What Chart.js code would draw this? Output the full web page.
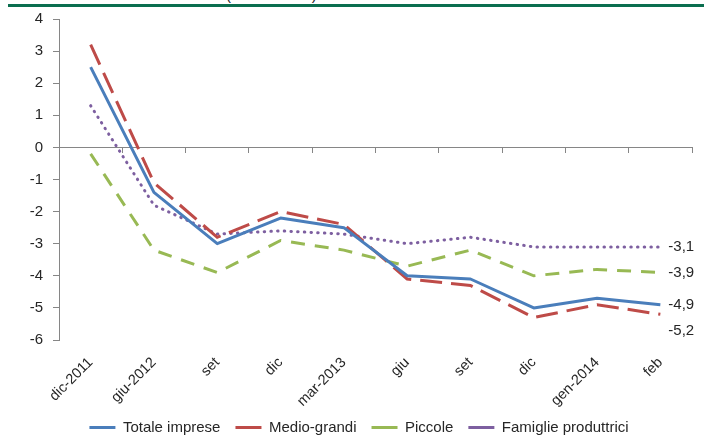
<!DOCTYPE html>
<html>
<head>
<meta charset="utf-8">
<script src="https://cdn.jsdelivr.net/npm/chart.js@4/dist/chart.umd.min.js"></script>
<style>
  html, body { margin: 0; padding: 0; background: #fff; }
  #wrap { position: relative; width: 704px; height: 440px; overflow: hidden; }
  #subtitle { position: absolute; left: 226px; top: -14px; font: 15px "Liberation Sans", Arial, sans-serif; color: #222; white-space: nowrap; }
  #rule { position: absolute; left: 8px; top: 4px; width: 696px; height: 3px; background: #0b6e4f; }
  canvas { position: absolute; left: 0; top: 0; }
</style>
</head>
<body>
<div id="wrap">
  <div id="subtitle">(variazioni %)</div>
  <div id="rule"></div>
  <canvas id="chart" width="704" height="440"></canvas>
</div>
<script>
// Periods on the horizontal axis
const categories = ['dic-2011', 'giu-2012', 'set', 'dic', 'mar-2013', 'giu', 'set', 'dic', 'gen-2014', 'feb'];

// Series values (percent)
const totaleImprese       = [2.5, -1.4, -3.0, -2.2, -2.5, -4.0, -4.1, -5.0, -4.7, -4.9];
const medioGrandi         = [3.2, -1.1, -2.8, -2.0, -2.4, -4.1, -4.3, -5.3, -4.9, -5.2];
const piccole             = [-0.2, -3.2, -3.9, -2.9, -3.2, -3.7, -3.2, -4.0, -3.8, -3.9];
const famiglieProduttrici = [1.3, -1.8, -2.7, -2.6, -2.7, -3.0, -2.8, -3.1, -3.1, -3.1];

// Value axis range and step
const yMin = -6;
const yMax = 4;
const yStep = 1;

const FONT = '"Liberation Sans", Arial, sans-serif';
const TEXT = '#262626';
const AXIS = '#868686';

Chart.defaults.font.family = FONT;
Chart.defaults.color = TEXT;

// Writes the last value of each series to the right of its line, nudging labels apart when they crowd
const endLabels = {
  id: 'endLabels',
  afterDatasetsDraw(chart) {
    const ctx = chart.ctx;
    const items = chart.data.datasets.map((ds, i) => {
      const meta = chart.getDatasetMeta(i);
      const pt = meta.data[meta.data.length - 1];
      return { x: pt.x, y: pt.y, v: ds.data[ds.data.length - 1] };
    }).sort((a, b) => a.y - b.y);
    const minGap = 26;
    for (let i = 1; i < items.length; i++) {
      if (items[i].y - items[i - 1].y < minGap) items[i].y = items[i - 1].y + minGap;
    }
    ctx.save();
    ctx.font = '15px ' + FONT;
    ctx.fillStyle = TEXT;
    ctx.textAlign = 'left';
    ctx.textBaseline = 'middle';
    items.forEach(it => ctx.fillText(it.v.toFixed(1).replace('.', ','), it.x + 8, it.y));
    ctx.restore();
  }
};

// Places the legend row just under the rotated period labels, a little right of centre
const legendPlacement = {
  id: 'legendPlacement',
  afterLayout(chart) {
    const lg = chart.legend;
    if (!lg) return;
    const h = lg.height;
    lg.top = 405;
    lg.bottom = lg.top + h;
    lg.left += 13;
    lg.right += 13;
  }
};

new Chart(document.getElementById('chart'), {
  type: 'line',
  data: {
    labels: categories,
    datasets: [
      { label: 'Totale imprese', data: totaleImprese, borderColor: '#4a7ebb', backgroundColor: '#4a7ebb', borderWidth: 3, borderJoinStyle: 'round' },
      { label: 'Medio-grandi', data: medioGrandi, borderColor: '#be4b48', backgroundColor: '#be4b48', borderWidth: 3, borderDash: [22, 9] },
      { label: 'Piccole', data: piccole, borderColor: '#98b954', backgroundColor: '#98b954', borderWidth: 3, borderDash: [14, 10] },
      { label: 'Famiglie produttrici', data: famiglieProduttrici, borderColor: '#7d5fa0', backgroundColor: '#7d5fa0', borderWidth: 3, borderDash: [0.5, 6.2], borderCapStyle: 'round' }
    ]
  },
  options: {
    responsive: false,
    animation: false,
    elements: { point: { radius: 0, hoverRadius: 0 }, line: { tension: 0, fill: false } },
    layout: { padding: { left: 0, right: 12, top: 18, bottom: -10 } },
    plugins: {
      tooltip: { enabled: false },
      legend: {
        position: 'bottom',
        labels: {
          usePointStyle: true,
          pointStyle: 'line',
          pointStyleWidth: 26,
          font: { size: 15 },
          color: TEXT,
          padding: 15
        }
      }
    },
    scales: {
      x: {
        type: 'category',
        position: { y: 0 },
        offset: true,
        grid: { offset: true, drawOnChartArea: false, drawTicks: true, tickLength: 5, color: AXIS, lineWidth: 1 },
        border: { display: true, color: AXIS, width: 1 },
        ticks: { display: false }
      },
      x2: {
        type: 'category',
        position: 'bottom',
        offset: true,
        grid: { display: false },
        border: { display: false },
        ticks: { autoSkip: false, minRotation: 45, maxRotation: 45, font: { size: 14.5 }, color: TEXT, padding: 6 },
        afterFit(scale) { scale.height = 70; }
      },
      y: {
        min: yMin,
        max: yMax,
        ticks: { stepSize: yStep, font: { size: 15 }, color: TEXT, padding: 10, callback: v => String(v) },
        grid: { drawOnChartArea: false, tickLength: 6, color: AXIS },
        border: { display: true, color: AXIS, width: 1 },
        afterFit(scale) { scale.width = 59; }
      }
    }
  },
  plugins: [endLabels, legendPlacement]
});
</script>
</body>
</html>
